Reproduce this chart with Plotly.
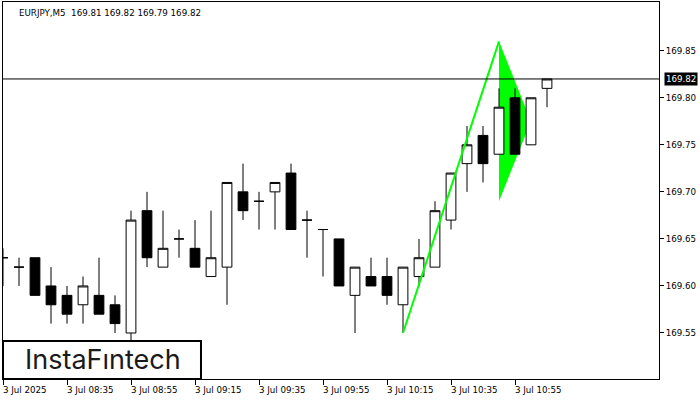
import plotly.graph_objects as go

symbol = "EURJPY,M5"
tick_labels = ["3 Jul 2025", "3 Jul 08:35", "3 Jul 08:55", "3 Jul 09:15", "3 Jul 09:35",
               "3 Jul 09:55", "3 Jul 10:15", "3 Jul 10:35", "3 Jul 10:55"]
tick_index = [0, 4, 8, 12, 16, 20, 24, 28, 32]

opens = [169.63, 169.62, 169.63, 169.60, 169.59, 169.58, 169.59, 169.58, 169.55, 169.68,
         169.62, 169.65, 169.64, 169.61, 169.62, 169.70, 169.69, 169.70, 169.72, 169.67,
         169.66, 169.65, 169.59, 169.61, 169.61, 169.58, 169.61, 169.62, 169.67, 169.73,
         169.76, 169.74, 169.80, 169.75, 169.81]
highs = [169.64, 169.63, 169.63, 169.62, 169.60, 169.61, 169.63, 169.59, 169.68, 169.70,
         169.68, 169.66, 169.67, 169.68, 169.71, 169.73, 169.70, 169.71, 169.73, 169.68,
         169.66, 169.65, 169.62, 169.63, 169.63, 169.62, 169.65, 169.69, 169.72, 169.77,
         169.77, 169.81, 169.81, 169.80, 169.82]
lows = [169.60, 169.60, 169.59, 169.56, 169.56, 169.56, 169.57, 169.55, 169.53, 169.62,
        169.62, 169.63, 169.62, 169.61, 169.58, 169.67, 169.66, 169.66, 169.66, 169.63,
        169.61, 169.60, 169.55, 169.60, 169.58, 169.55, 169.60, 169.62, 169.66, 169.70,
        169.71, 169.74, 169.74, 169.75, 169.79]
closes = [169.63, 169.62, 169.59, 169.58, 169.57, 169.60, 169.57, 169.56, 169.67, 169.63,
          169.64, 169.65, 169.62, 169.63, 169.71, 169.68, 169.69, 169.71, 169.66, 169.67,
          169.66, 169.60, 169.62, 169.60, 169.59, 169.62, 169.63, 169.68, 169.72, 169.75,
          169.73, 169.79, 169.74, 169.80, 169.82]
candle_index = list(range(len(opens)))

y_ticks = [169.55, 169.60, 169.65, 169.70, 169.75, 169.80, 169.85]

# Bullish pennant pattern
pole_x = [25, 31]
pole_y = [169.55, 169.86]
flag_x = [31, 31, 33]
flag_y = [169.86, 169.69, 169.775]

GREEN = "#00FF00"
FONT = "DejaVu Sans"

fig = go.Figure()

fig.add_trace(go.Candlestick(
    x=candle_index, open=opens, high=highs, low=lows, close=closes,
    increasing=dict(line=dict(color="black", width=1), fillcolor="white"),
    decreasing=dict(line=dict(color="black", width=1), fillcolor="black"),
    whiskerwidth=0, showlegend=False, hoverinfo="skip",
))

fig.add_trace(go.Scatter(
    x=pole_x, y=pole_y, mode="lines",
    line=dict(color=GREEN, width=2), showlegend=False, hoverinfo="skip",
))

path = "M {},{} L {},{} L {},{} Z".format(flag_x[0], flag_y[0], flag_x[1], flag_y[1], flag_x[2], flag_y[2])
shapes = [
    dict(type="path", path=path, xref="x", yref="y", fillcolor=GREEN,
         line=dict(width=0), layer="below"),
    dict(type="line", xref="paper", x0=0, x1=1, yref="y", y0=closes[-1], y1=closes[-1],
         line=dict(color="black", width=1), layer="above"),
    dict(type="rect", xref="paper", yref="paper", x0=0, x1=0.3018, y0=0.0, y1=0.1008,
         fillcolor="white", line=dict(color="black", width=2), layer="above"),
]

annotations = []
for xi, lab in zip(tick_index, tick_labels):
    annotations.append(dict(x=xi, xref="x", y=0, yref="paper", text=lab, showarrow=False,
                            xanchor="left", yanchor="top", xshift=-2, yshift=-4,
                            font=dict(family=FONT, size=8.7, color="black")))

title = "{}  {:.2f} {:.2f} {:.2f} {:.2f}".format(symbol, opens[-1], highs[-1], lows[-1], closes[-1])
annotations.append(dict(x=0.0213, xref="paper", y=0.971, yref="paper", text=title,
                        showarrow=False, xanchor="left", yanchor="middle",
                        font=dict(family=FONT, size=8.7, color="black")))

annotations.append(dict(x=1, xref="paper", y=closes[-1], yref="y", text="{:.2f}".format(closes[-1]),
                        showarrow=False, xanchor="left", yanchor="middle", xshift=5,
                        bgcolor="black", borderpad=1,
                        font=dict(family=FONT, size=8.7, color="white")))

annotations.append(dict(x=0.1517, xref="paper", y=0.053, yref="paper", text="InstaF\u0131ntech",
                        showarrow=False, xanchor="center", yanchor="middle",
                        font=dict(family="Inter", size=27, color="#1a1a1a")))

fig.update_layout(
    width=700, height=400,
    margin=dict(l=3, r=41, t=2, b=21),
    paper_bgcolor="white", plot_bgcolor="white",
    shapes=shapes, annotations=annotations,
    showlegend=False,
    boxgap=0.39, boxgroupgap=0,
    xaxis=dict(range=[0, 41], rangeslider=dict(visible=False), showgrid=False, zeroline=False,
               tickmode="array", tickvals=tick_index, showticklabels=False,
               ticks="outside", ticklen=5, tickcolor="black", tickwidth=1,
               showline=True, linecolor="black", linewidth=1, mirror=True),
    yaxis=dict(range=[169.5011, 169.9018], side="right", showgrid=False, zeroline=False,
               tickmode="array", tickvals=y_ticks, tickformat=".2f",
               ticks="outside", ticklen=4, tickcolor="black", tickwidth=1,
               showline=True, linecolor="black", linewidth=1, mirror=True,
               tickfont=dict(family=FONT, size=8.7, color="black")),
)

fig.write_html("out.html", config={"displayModeBar": False},
               post_script="document.body.style.margin='0';document.body.style.padding='0';")
